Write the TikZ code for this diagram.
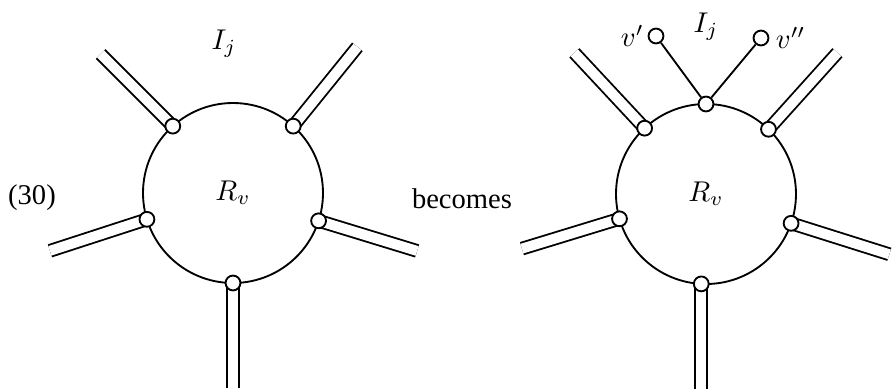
\documentclass[tikz,border=0pt]{standalone}
\usepackage{fontspec}
\setmainfont{Liberation Serif}
\usetikzlibrary{positioning}

\begin{document}
\begin{tikzpicture}[
  x=0.35pt, y=0.35pt,
  line width=0.65pt,
  every node/.style={font=\fontsize{10}{12}\selectfont},
  region/.style={circle, draw, minimum size=63pt, inner sep=0pt, outer sep=0pt},
  vtx/.style={circle, draw, fill=white, minimum size=5.2pt, inner sep=0pt},
  pair/.style={double, double distance=3.5pt, line cap=butt},
  lab/.style={inner sep=1pt},
]
\useasboundingbox (0,0) rectangle (894,388);

% left picture
\node[region] (R1) at (233,195) {$R_v$};
\coordinate (a1) at (R1.132);
\coordinate (a2) at (R1.48);
\coordinate (a3) at (R1.197);
\coordinate (a4) at (R1.-18);
\coordinate (a5) at (R1.-90);
\path (a1) ++(135:102) coordinate (e1);
\path (a2) ++(51:102)  coordinate (e2);
\path (a3) ++(198:102) coordinate (e3);
\path (a4) ++(-17:103) coordinate (e4);
\path (a5) ++(-90:105) coordinate (e5);
\draw[pair] (a1) -- (e1);
\draw[pair] (a2) -- (e2);
\draw[pair] (a3) -- (e3);
\draw[pair] (a4) -- (e4);
\draw[pair] (a5) -- (e5);
\node[vtx] (u1) at (a1) {};
\node[vtx] (u2) at (a2) {};
\node[vtx] (u3) at (a3) {};
\node[vtx] (u4) at (a4) {};
\node[vtx] (u5) at (a5) {};
\node (I1) at (224,344) {$I_j$};
\node (num) at (32,190) {(30)};
\node (bec) at (462,189) {becomes};

% right picture
\node[region] (R2) at (706,194) {$R_v$};
\coordinate (b1) at (R2.133);
\coordinate (b2) at (R2.46);
\coordinate (b3) at (R2.196);
\coordinate (b4) at (R2.-19);
\coordinate (b5) at (R2.-93);
\coordinate (b6) at (R2.90);
\path (b1) ++(133:103) coordinate (f1);
\path (b2) ++(48:103)  coordinate (f2);
\path (b3) ++(197:102) coordinate (f3);
\path (b4) ++(-17.5:103) coordinate (f4);
\path (b5) ++(-90:105) coordinate (f5);
\draw[pair] (b1) -- (f1);
\draw[pair] (b2) -- (f2);
\draw[pair] (b3) -- (f3);
\draw[pair] (b4) -- (f4);
\draw[pair] (b5) -- (f5);
\node[vtx] (w1) at (b1) {};
\node[vtx] (w2) at (b2) {};
\node[vtx] (w3) at (b3) {};
\node[vtx] (w4) at (b4) {};
\node[vtx] (w5) at (b5) {};
\node[vtx] (w6) at (b6) {};
\node[vtx] (v1) at (656,352) {};
\node[vtx] (v2) at (761,350) {};
\draw (w6) -- (v1);
\draw (w6) -- (v2);
\node[lab, left=0pt of v1] (v1l) {$v'$};
\node[lab, right=1pt of v2] (v2l) {$v''$};
\node (I2) at (706,361) {$I_j$};
\end{tikzpicture}
\end{document}
